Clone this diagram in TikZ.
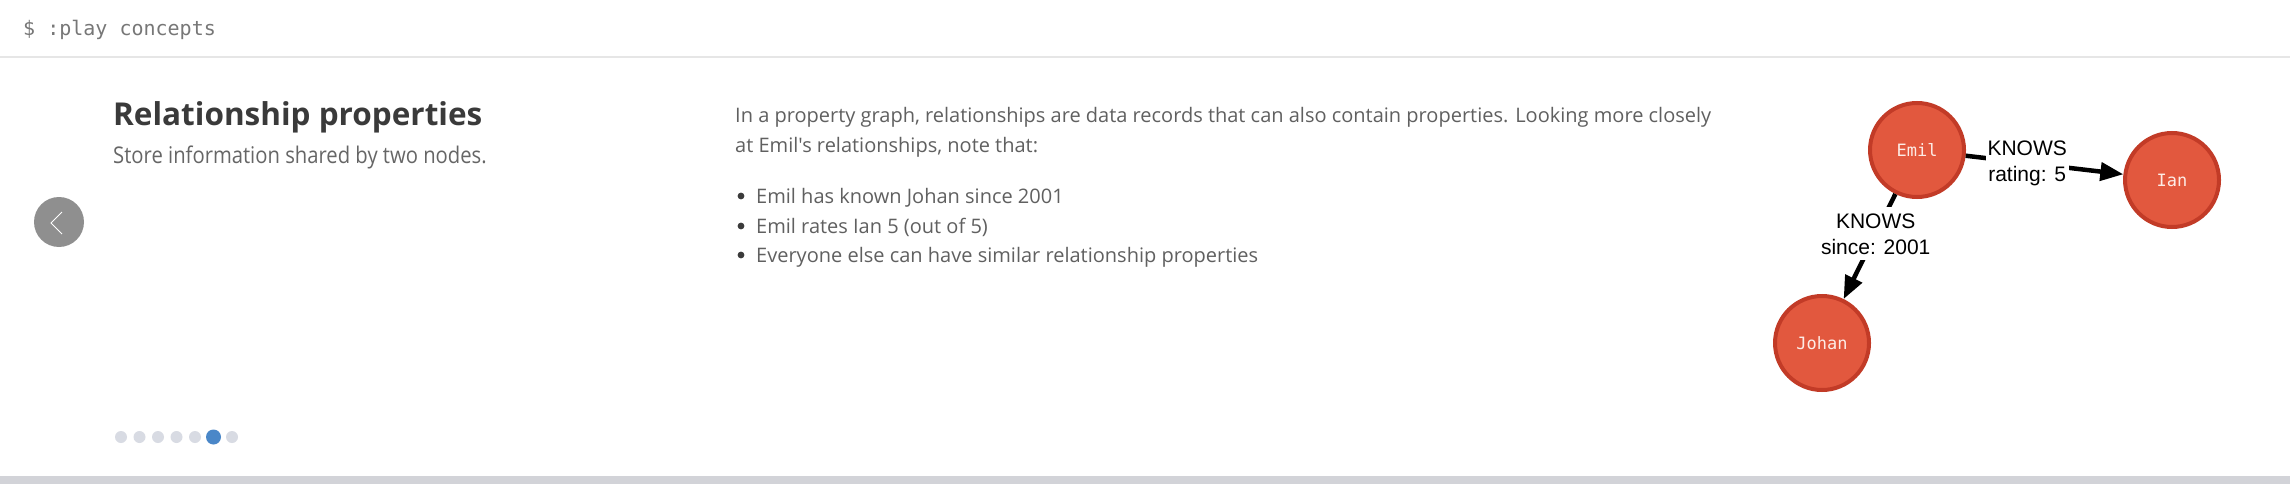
\documentclass[tikz,border=0pt]{standalone}
\usepackage{fontspec}
\setmainfont{Open Sans}
\newfontfamily\bodyfont{Open Sans}
\newfontfamily\subfont[FakeStretch=0.88]{Open Sans}
\newfontfamily\promptfont{DejaVu Sans Mono}
\newfontfamily\labelfont{Liberation Sans}
\usetikzlibrary{arrows.meta,positioning}

\definecolor{nodefill}{HTML}{E2583E}
\definecolor{nodeborder}{HTML}{C23B27}
\definecolor{nodetext}{HTML}{FDECE6}
\definecolor{titlegrey}{HTML}{3A3A3A}
\definecolor{subgrey}{HTML}{666666}
\definecolor{paragrey}{HTML}{606060}
\definecolor{promptgrey}{HTML}{777777}
\definecolor{sepgrey}{HTML}{E6E6E6}
\definecolor{bandgrey}{HTML}{D2D3D8}
\definecolor{btngrey}{HTML}{8F8F8F}
\definecolor{dotgrey}{HTML}{D8DBE3}
\definecolor{dotblue}{HTML}{4A87C8}

\tikzset{
  person/.style={circle, draw=nodeborder, fill=nodefill, line width=4pt,
    minimum size=94pt, inner sep=0pt, text=nodetext,
    font=\promptfont\fontsize{17}{20}\selectfont},
  knows/.style={line width=4.5pt, -{Triangle[length=23pt,width=18pt]}},
  proplabel/.style={fill=white, inner xsep=2pt, inner ysep=6pt, align=center,
    font=\labelfont\fontsize{21}{26}\selectfont},
  para/.style={anchor=base west, inner sep=0pt, text=paragrey,
    font=\bodyfont\fontsize{20}{24}\selectfont},
  pager/.style={circle, fill=dotgrey, minimum size=12pt, inner sep=0pt},
}

\begin{document}
\begin{tikzpicture}[x=1pt,y=-1pt]
    % Sfondo
    \fill[white] (0,0) rectangle (2290,484);
    \useasboundingbox (0,0) rectangle (2290,484);

    % Barra del comando
    \node[anchor=base west, inner sep=0pt, text=promptgrey,
      font=\promptfont\fontsize{20}{24}\selectfont] (prompt) at (23,36) {\$ :play concepts};
    \draw[sepgrey, line width=1.5pt] (0,57) -- (2290,57);
    \fill[bandgrey] (0,476) rectangle (2290,484);

    % Titolo
    \node[anchor=base west, inner sep=0pt, text=titlegrey,
      font=\bodyfont\bfseries\fontsize{31.5}{36}\selectfont] (title) at (113,126) {Relationship properties};
    \node[anchor=base west, inner sep=0pt, text=subgrey,
      font=\subfont\fontsize{23}{28}\selectfont] (subtitle) at (113,163) {Store information shared by two nodes.};

    % Pulsante indietro
    \node[circle, fill=btngrey, minimum size=50pt, inner sep=0pt] (back) at (59,222) {};
    \draw[white, line width=1pt] ([shift={(3,-10)}]back.center) -- ++(-11,11) -- ++(11,11);

    % Testo
    \node[para] (line1) at (735,122) {In a property graph, relationships are data records that can also contain properties. Looking more closely};
    \node[para] (line2) at (735,152) {at Emil's relationships, note that:};
    \node[para] (item1) at (756,203) {Emil has known Johan since 2001};
    \node[para] (item2) at (756,233) {Emil rates Ian 5 (out of 5)};
    \node[para] (item3) at (756,262) {Everyone else can have similar relationship properties};
    \foreach \y in {203,233,262}
        \fill[titlegrey] (741,\y-7) circle (3.4);

    % Indicatore pagine
    \foreach \i in {0,1,2,3,4,6}
        \node[pager] (dot\i) at (121+18.5*\i,437) {};
    \node[pager, fill=dotblue, minimum size=15pt] (dot5) at (213.5,437) {};

    % Grafo
    \node[person] (emil) at (1917,150) {Emil};
    \node[person] (ian) at (2172,180) {Ian};
    \node[person] (johan) at (1822,343) {Johan};

    \draw[knows] (emil) -- node[proplabel, pos=0.39] (rating) {KNOWS\\rating: 5} (ian);
    \draw[knows] (emil) -- node[proplabel, pos=0.38] (since) {KNOWS\\since: 2001} (johan);
\end{tikzpicture}
\end{document}
